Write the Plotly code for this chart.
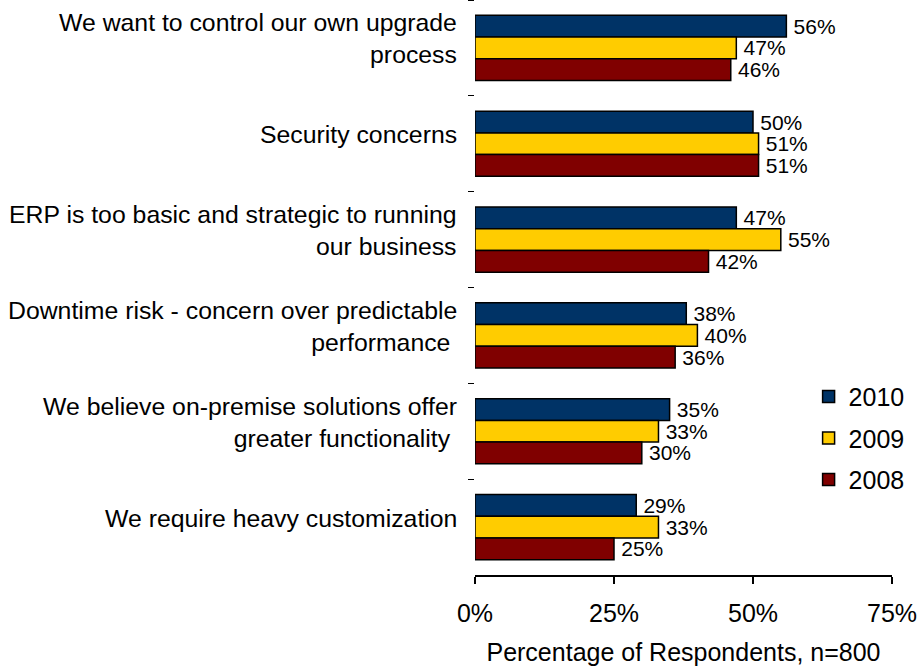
import plotly.graph_objects as go

categories = [
    "We want to control our own upgrade<br>process",
    "Security concerns",
    "ERP is too basic and strategic to running<br>our business",
    "Downtime risk - concern over predictable<br>performance\u00a0",
    "We believe on-premise solutions offer<br>greater functionality\u00a0",
    "We require heavy customization",
]
years = ["2010", "2009", "2008"]
values_2010 = [56, 50, 47, 38, 35, 29]
values_2009 = [47, 51, 55, 40, 33, 33]
values_2008 = [46, 51, 42, 36, 30, 25]
colors = ["#003366", "#FFCC00", "#800000"]
series = [values_2010, values_2009, values_2008]
x_ticks = [0, 25, 50, 75]
x_tick_text = ["0%", "25%", "50%", "75%"]

FONT = "Arial, Liberation Sans, sans-serif"

fig = go.Figure()
for i, (yr, vals, col) in enumerate(zip(years, series, colors)):
    fig.add_trace(go.Bar(
        y=categories, x=vals, name=yr, orientation="h",
        marker=dict(color=col, line=dict(color="black", width=1.5)),
        text=[f"\u2009{v}%" for v in vals], textposition="outside",
        textfont=dict(size=21, color="black", family=FONT),
        constraintext="none", cliponaxis=False,
        legendgroup=yr,
    ))

for cat in categories:
    fig.add_annotation(
        x=0, xref="paper", y=cat, yref="y", text=cat,
        xanchor="right", yanchor="middle", align="right",
        xshift=-16, yshift=9, showarrow=False,
        font=dict(size=24.8, color="black", family=FONT),
    )

fig.update_layout(
    width=919, height=666,
    margin=dict(l=475, r=27, t=0, b=91),
    barmode="group", bargap=0.32, bargroupgap=0,
    plot_bgcolor="white", paper_bgcolor="white",
    font=dict(family=FONT, color="black", size=25),
    showlegend=True,
    legend=dict(x=0.80, y=0.35, xanchor="left", yanchor="top",
                font=dict(size=25), traceorder="grouped", tracegroupgap=6,
                bgcolor="rgba(0,0,0,0)"),
    xaxis=dict(range=[0, 75], tickmode="array", tickvals=x_ticks, ticktext=x_tick_text,
               showline=True, linecolor="black", linewidth=1.5,
               ticks="outside", ticklen=7, tickcolor="black", tickwidth=1.5,
               showgrid=False, zeroline=False,
               tickfont=dict(size=25), ticklabelstandoff=8,
               title=dict(text="Percentage of Respondents, n=800",
                          font=dict(size=25), standoff=19)),
    yaxis=dict(autorange="reversed", showline=False, showgrid=False,
               ticks="outside", tickson="boundaries", ticklen=6,
               tickcolor="black", tickwidth=1, showticklabels=False),
)

fig.write_html("out.html")
